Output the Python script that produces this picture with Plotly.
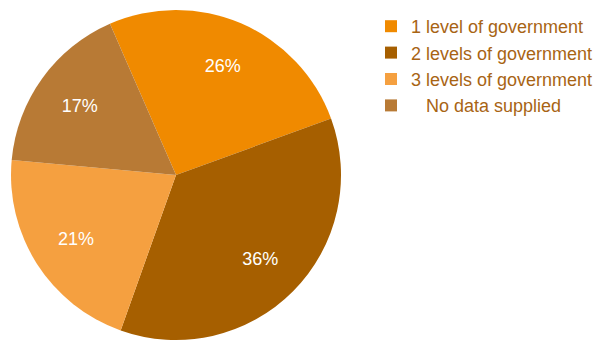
import plotly.graph_objects as go

labels = ["1 level of government", "2 levels of government", "3 levels of government", "   No data supplied"]
values = [26, 36, 21, 17]
colors = ["#F08A00", "#A65F00", "#F5A040", "#B87A35"]

FONT = "Liberation Sans, Arial, Helvetica, sans-serif"
DOMAIN = dict(x=[3/601, 333/601], y=[1 - 332/340, 1 - 2/340])

# filled pie (no text)
fig = go.Figure(go.Pie(
    labels=labels,
    values=values,
    sort=False,
    direction="clockwise",
    rotation=-23.6,
    marker=dict(colors=colors, line=dict(width=0)),
    textinfo="none",
    hoverinfo="label+percent",
    domain=DOMAIN,
))

# transparent ring carrying the percentage labels further out
fig.add_trace(go.Pie(
    labels=labels,
    values=values,
    sort=False,
    direction="clockwise",
    rotation=-23.6,
    hole=0.44,
    marker=dict(colors=["rgba(0,0,0,0)"] * len(values), line=dict(width=0)),
    texttemplate="%{value}%",
    textposition="inside",
    insidetextorientation="horizontal",
    insidetextfont=dict(color="white", size=18, family=FONT),
    hoverinfo="skip",
    showlegend=False,
    domain=DOMAIN,
))

fig.update_layout(
    width=601, height=340,
    margin=dict(l=0, r=0, t=0, b=0),
    paper_bgcolor="white",
    plot_bgcolor="white",
    showlegend=True,
    legend=dict(
        x=0.604, y=1.0, xanchor="left", yanchor="top",
        font=dict(size=18, color="#A86414", family=FONT),
        bgcolor="rgba(0,0,0,0)",
    ),
)

fig.write_html("out.html")
